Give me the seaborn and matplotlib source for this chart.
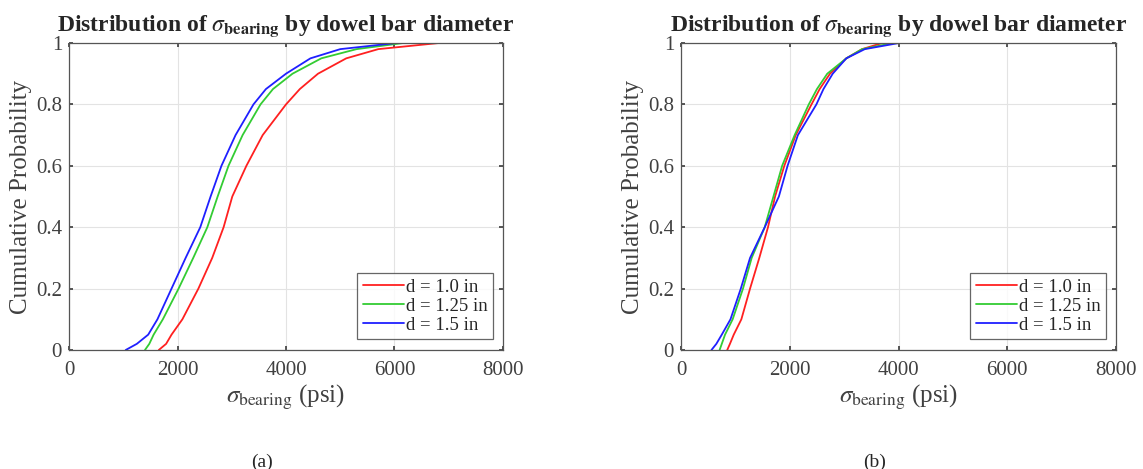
import matplotlib
matplotlib.use("Agg")
import matplotlib.pyplot as plt
import seaborn as sns
import pandas as pd

# CDF points (psi, cumulative probability)
prob = [0.0, 0.02, 0.05, 0.1, 0.2, 0.3, 0.4, 0.5, 0.6, 0.7, 0.8, 0.85, 0.9, 0.95, 0.98, 1.0]

# (a)
a_d10 = [1655, 1790, 1890, 2090, 2385, 2640, 2850, 3010, 3270, 3570, 4000, 4255, 4590, 5110, 5700, 6820]
a_d125 = [1400, 1480, 1560, 1730, 2020, 2290, 2550, 2740, 2940, 3200, 3530, 3760, 4120, 4650, 5300, 6160]
a_d15 = [1045, 1250, 1460, 1630, 1890, 2150, 2420, 2610, 2810, 3070, 3400, 3630, 4000, 4450, 5000, 6030]

# (b)
b_d10 = [850, 900, 970, 1110, 1270, 1440, 1600, 1730, 1900, 2110, 2400, 2550, 2740, 3040, 3330, 3700]
b_d125 = [710, 750, 810, 950, 1140, 1300, 1540, 1700, 1860, 2090, 2350, 2500, 2690, 3040, 3330, 3900]
b_d15 = [560, 650, 750, 910, 1100, 1270, 1540, 1800, 1960, 2150, 2490, 2620, 2790, 3040, 3380, 4010]

labels = ["d = 1.0 in", "d = 1.25 in", "d = 1.5 in"]
colors = ["#ff2020", "#33cc33", "#1f1fff"]

sns.set_theme(style="white")
plt.rcParams["font.family"] = ["Liberation Serif", "DejaVu Serif"]
plt.rcParams["mathtext.fontset"] = "stix"

W, H = 1143, 469
fig = plt.figure(figsize=(W / 100, H / 100), dpi=100)
# axes boxes in pixels: left, top, right, bottom
ax_a = fig.add_axes([69 / W, 1 - 350 / H, (503 - 69) / W, (350 - 43) / H])
ax_b = fig.add_axes([681 / W, 1 - 350 / H, (1116 - 681) / W, (350 - 43) / H])


def draw(ax, series):
    for xs, lab, c in zip(series, labels, colors):
        df = pd.DataFrame({"stress": xs, "p": prob})
        sns.lineplot(data=df, x="stress", y="p", ax=ax, color=c, label=lab,
                     estimator=None, sort=False, linewidth=1.3)
    ax.set_xlim(0, 8000)
    ax.set_ylim(0, 1)
    ax.set_xticks([0, 2000, 4000, 6000, 8000])
    ax.set_yticks([0, 0.2, 0.4, 0.6, 0.8, 1.0])
    ax.set_yticklabels(["0", "0.2", "0.4", "0.6", "0.8", "1"])
    ax.grid(True, color="#e3e3e3", linewidth=0.8)
    ax.set_axisbelow(True)
    ax.tick_params(direction="in", length=3, labelsize=15, colors="#404040",
                   top=True, right=True, bottom=True, left=True)
    ax.tick_params(axis="x", pad=8)
    ax.tick_params(axis="y", pad=5)
    for s in ax.spines.values():
        s.set_color("#555555")
        s.set_linewidth(0.9)
    ax.set_title(r"Distribution of $\sigma_{\mathbf{bearing}}$ by dowel bar diameter",
                 fontsize=17, fontweight="bold", pad=9)
    ax.set_xlabel(r"$\sigma_{\mathrm{bearing}}$ (psi)", fontsize=18, color="#404040",
                  labelpad=2)
    ax.set_ylabel("Cumulative Probability", fontsize=18, color="#404040", labelpad=3)
    leg = ax.legend(loc="lower right", bbox_to_anchor=(0.978, 0.035), borderaxespad=0,
                    fontsize=13.5, frameon=True, fancybox=False, edgecolor="#404040",
                    handlelength=2.2, handletextpad=0.1, borderpad=0.3,
                    labelspacing=0.1)
    leg.get_frame().set_linewidth(0.9)


draw(ax_a, [a_d10, a_d125, a_d15])
draw(ax_b, [b_d10, b_d125, b_d15])

fig.text(262 / W, 1 - 462 / H, "(a)", ha="center", va="center", fontsize=14)
fig.text(875 / W, 1 - 462 / H, "(b)", ha="center", va="center", fontsize=14)

fig.savefig("out.png", dpi=100)
